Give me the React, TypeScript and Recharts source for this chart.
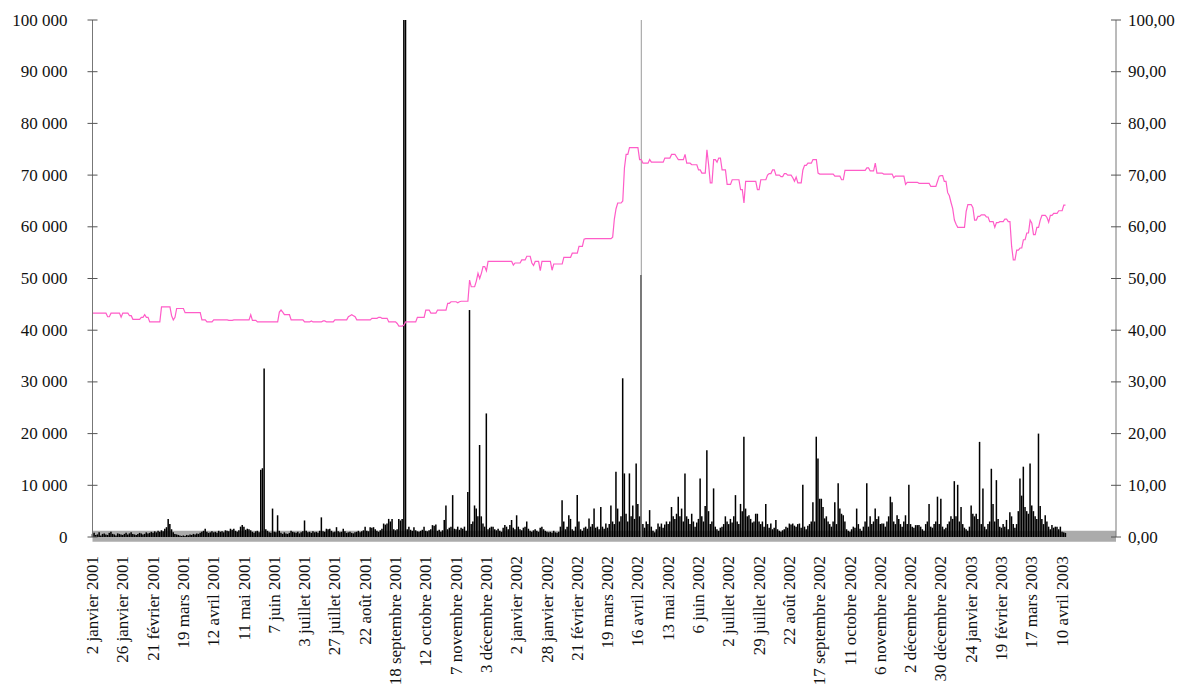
import React from 'react';
import { ComposedChart, Bar, Line, XAxis, YAxis, ReferenceArea, ReferenceLine } from 'recharts';

// one label every 18 trading days
const dateLabels = [
  '2 janvier 2001', '26 janvier 2001', '21 février 2001', '19 mars 2001', '12 avril 2001', '11  mai 2001',
  '7 juin 2001', '3 juillet 2001', '27 juillet 2001', '22 août 2001', '18 septembre 2001', '12 octobre 2001',
  '7 novembre 2001', '3 décembre 2001', '2 janvier 2002', '28 janvier 2002', '21 février 2002', '19 mars 2002',
  '16 avril 2002', '13 mai 2002', '6 juin 2002', '2 juillet 2002', '29 juillet 2002', '22 août 2002',
  '17 septembre 2002', '11 octobre 2002', '6 novembre 2002', '2 décembre 2002', '30 décembre 2002',
  '24 janvier 2003', '19 février 2003', '17 mars 2003', '10 avril 2003',
];

// daily volume, in thousands (left axis)
const volumeK = [
  0.6, 0.8, 0.4, 0.5, 0.9, 0.3, 0.6, 0.7, 0.5, 0.4, 0.8, 1.0, 0.6, 0.5, 0.3, 0.7, 0.6, 0.5,
  0.4, 0.6, 0.8, 0.5, 0.7, 0.9, 0.6, 0.5, 0.4, 0.6, 0.8, 0.7, 0.5, 0.6, 0.9, 0.7, 0.8, 1.0,
  0.8, 1.1, 0.9, 1.2, 1.0, 1.3, 1.1, 1.6, 1.9, 3.5, 2.5, 1.5, 0.9, 0.6, 0.5, 0.4, 0.3, 0.2,
  0.3, 0.2, 0.4, 0.3, 0.5, 0.4, 0.6, 0.5, 0.7, 0.6, 0.8, 1.0, 1.2, 1.6, 1.0, 0.8, 0.9, 1.1,
  0.9, 1.0, 0.8, 1.2, 1.0, 1.1, 0.9, 1.3, 1.2, 1.1, 1.6, 1.4, 1.6, 1.2, 1.0, 1.3, 2.0, 2.3,
  2.0, 1.4, 1.6, 1.5, 1.3, 1.0, 0.8, 1.1, 1.2, 0.9, 13.0, 13.3, 32.6, 1.5, 1.2, 0.9, 0.8, 5.5,
  1.0, 0.9, 4.2, 1.2, 0.8, 0.6, 0.9, 0.7, 0.6, 0.8, 1.2, 1.0, 0.9, 0.8, 1.0, 0.7, 0.9, 1.1,
  3.2, 1.2, 0.9, 1.0, 0.8, 1.1, 0.9, 1.0, 0.8, 1.2, 3.8, 1.1, 1.0, 1.6, 1.5, 1.6, 1.2, 0.9,
  1.0, 1.9, 1.1, 0.9, 1.0, 1.6, 1.1, 0.8, 0.9, 1.0, 0.8, 0.7, 0.9, 1.0, 1.2, 0.9, 1.1, 1.3,
  2.0, 1.2, 1.1, 1.9, 1.8, 1.9, 1.5, 1.2, 1.0, 1.3, 1.6, 2.6, 2.4, 2.6, 3.5, 3.0, 3.5, 1.5,
  1.3, 1.5, 3.5, 3.2, 3.5, 150, 120, 1.5, 2.0, 1.4, 1.2, 1.9, 1.3, 1.1, 1.0, 1.2, 1.4, 2.0,
  1.2, 1.1, 1.3, 1.5, 2.3, 2.2, 2.4, 1.2, 1.4, 1.0, 1.3, 3.3, 6.1, 1.5, 1.8, 2.0, 8.1, 1.6,
  1.5, 2.0, 1.4, 1.8, 1.6, 2.0, 1.2, 8.7, 43.9, 2.5, 3.0, 6.1, 5.5, 4.0, 17.8, 4.0, 2.6, 2.0,
  23.9, 1.5, 1.8, 2.0, 2.0, 1.5, 1.3, 1.6, 1.2, 1.0, 1.8, 2.3, 2.0, 1.5, 2.3, 3.3, 1.8, 1.5,
  4.2, 2.0, 1.5, 1.3, 1.8, 2.0, 3.0, 1.6, 1.2, 1.0, 1.3, 1.5, 1.2, 1.0, 1.8, 2.0, 1.5, 1.2,
  1.0, 0.9, 1.0, 0.8, 1.2, 0.9, 0.8, 1.0, 2.0, 7.1, 3.0, 1.5, 2.0, 4.2, 3.5, 1.5, 1.2, 2.0,
  8.1, 3.0, 1.5, 1.2, 1.8, 2.0, 1.6, 3.6, 2.0, 2.5, 5.5, 1.8, 2.0, 1.5, 5.8, 2.0, 1.6, 2.6,
  1.8, 2.5, 6.1, 3.0, 2.5, 12.6, 5.5, 3.0, 4.0, 30.7, 12.3, 4.5, 3.0, 12.3, 4.0, 6.1, 3.5, 14.2,
  6.4, 4.0, 50.7, 2.5, 1.8, 3.0, 2.5, 5.2, 2.0, 1.2, 0.9, 1.5, 2.6, 2.0, 2.6, 1.8, 2.4, 3.0,
  2.5, 3.0, 5.8, 4.0, 3.5, 4.5, 7.8, 4.0, 5.5, 3.0, 12.3, 4.0, 3.5, 2.5, 4.5, 3.0, 2.0, 2.8,
  3.5, 11.3, 4.0, 3.0, 6.0, 16.8, 5.0, 2.5, 3.0, 9.4, 2.0, 1.5, 1.2, 1.8, 2.0, 2.5, 4.0, 3.0,
  2.5, 3.5, 2.8, 4.0, 8.1, 3.0, 2.5, 6.4, 5.0, 19.4, 5.5, 4.0, 4.2, 3.5, 2.8, 3.0, 4.5, 4.5,
  3.0, 2.5, 3.0, 2.0, 6.4, 2.5, 1.8, 2.6, 1.5, 1.8, 3.3, 1.5, 1.2, 1.0, 1.3, 1.5, 2.0, 1.8,
  2.6, 2.4, 2.6, 2.2, 2.0, 2.5, 2.6, 1.8, 10.1, 2.0, 1.5, 2.2, 2.5, 3.0, 6.7, 3.0, 19.4, 15.2,
  7.4, 7.4, 5.8, 3.6, 4.0, 3.0, 2.5, 2.0, 3.0, 6.7, 2.5, 10.4, 5.5, 4.5, 4.2, 3.0, 1.5, 1.2,
  1.0, 1.5, 2.0, 1.8, 5.5, 2.5, 1.6, 1.2, 2.0, 3.0, 10.4, 2.0, 4.0, 2.5, 3.0, 5.5, 3.5, 4.0,
  2.5, 2.6, 2.6, 2.0, 3.0, 4.0, 7.8, 6.7, 3.0, 2.5, 4.2, 3.5, 2.5, 2.0, 3.0, 4.2, 2.5, 10.1,
  2.5, 2.0, 1.8, 2.3, 2.3, 2.3, 2.0, 1.5, 1.2, 2.5, 3.0, 6.4, 2.0, 1.8, 2.5, 3.0, 7.8, 2.5,
  7.4, 2.0, 1.5, 1.8, 2.5, 3.0, 4.0, 3.5, 10.8, 4.0, 10.1, 3.0, 5.8, 2.5, 1.8, 1.5, 1.2, 2.0,
  6.1, 4.5, 4.0, 4.5, 3.5, 18.4, 2.5, 9.4, 2.0, 1.5, 2.5, 3.0, 13.2, 6.4, 3.0, 11.0, 3.5, 2.0,
  1.8, 2.5, 2.0, 3.3, 1.5, 4.8, 4.0, 2.5, 1.8, 2.5, 5.0, 11.3, 8.0, 13.6, 5.8, 5.0, 4.5, 14.2,
  6.1, 5.0, 4.0, 3.5, 20.0, 6.0, 3.5, 2.5, 4.2, 3.0, 2.0, 1.5, 2.3, 1.8, 2.0, 2.0, 1.5, 2.0,
  1.0, 0.9, 0.8,
];

// daily closing price (right axis)
const price = [
  43.3, 43.3, 43.3, 43.3, 43.3, 43.3, 43.3, 43.3, 43.3, 42.6, 42.6, 43.3, 43.3, 43.3, 43.3, 43.3, 43.3, 42.5,
  43.3, 43.3, 43.3, 43.3, 42.8, 42.8, 42.1, 42.1, 42.1, 42.1, 42.1, 42.5, 42.5, 43.0, 42.5, 42.5, 41.6, 41.6,
  41.6, 41.6, 41.6, 41.6, 41.6, 44.5, 44.5, 44.5, 44.5, 44.5, 44.5, 42.8, 42.0, 42.5, 44.2, 44.2, 44.2, 44.2,
  44.2, 43.4, 43.4, 43.4, 43.4, 43.4, 43.4, 43.4, 43.4, 43.4, 43.4, 42.0, 42.0, 42.0, 41.6, 41.6, 41.6, 41.6,
  42.0, 42.0, 42.0, 42.0, 42.0, 42.0, 42.0, 42.0, 42.0, 41.9, 41.9, 41.9, 42.0, 42.0, 42.0, 42.0, 42.0, 42.0,
  42.0, 42.0, 42.0, 42.0, 43.0, 41.9, 41.9, 41.9, 41.6, 41.6, 41.6, 41.6, 41.6, 41.6, 41.6, 41.6, 41.6, 41.6,
  41.6, 41.6, 41.6, 43.5, 43.9, 43.5, 43.0, 43.0, 43.0, 43.0, 42.0, 42.0, 42.0, 42.0, 42.0, 42.0, 42.0, 42.0,
  41.6, 41.6, 41.6, 41.6, 41.8, 41.6, 41.6, 41.6, 41.6, 41.6, 41.6, 41.8, 41.8, 41.6, 41.6, 41.6, 41.6, 41.6,
  42.0, 42.0, 42.0, 42.0, 42.0, 42.0, 42.0, 42.0, 42.6, 42.8, 43.0, 42.8, 42.6, 42.0, 42.0, 42.0, 42.0, 42.0,
  42.0, 42.0, 42.0, 42.0, 42.3, 42.3, 42.3, 42.3, 42.5, 42.5, 42.3, 42.3, 42.3, 42.3, 41.6, 41.6, 41.6, 41.6,
  41.6, 41.3, 40.8, 40.8, 40.8, 41.0, 41.6, 41.6, 41.6, 41.6, 41.6, 41.6, 41.6, 42.5, 42.5, 42.5, 42.5, 42.5,
  43.9, 43.9, 43.9, 43.3, 43.3, 43.3, 43.3, 43.9, 43.9, 43.9, 43.9, 43.9, 43.9, 45.2, 45.2, 45.5, 45.5, 45.5,
  45.5, 45.3, 45.5, 45.6, 45.6, 45.6, 45.6, 45.6, 49.7, 48.4, 48.4, 48.4, 49.5, 51.0, 50.0, 51.0, 52.3, 52.3,
  51.5, 53.3, 53.3, 53.3, 53.3, 53.3, 53.3, 53.3, 53.3, 53.3, 53.3, 53.3, 53.3, 53.3, 53.3, 53.3, 52.6, 53.0,
  53.0, 53.0, 53.0, 53.6, 53.6, 53.6, 54.3, 54.3, 54.3, 53.0, 52.5, 53.3, 53.3, 53.3, 51.5, 53.3, 53.3, 53.3,
  53.3, 53.3, 53.3, 51.6, 52.8, 52.8, 52.8, 52.8, 52.8, 52.8, 54.1, 54.1, 54.1, 54.1, 54.1, 54.9, 54.9, 54.9,
  54.9, 56.2, 56.2, 56.2, 57.6, 57.7, 57.7, 57.7, 57.7, 57.7, 57.7, 57.7, 57.7, 57.7, 57.7, 57.7, 57.7, 57.7,
  57.7, 57.7, 57.7, 58.0, 61.5, 63.5, 64.6, 64.6, 64.6, 65.0, 71.4, 74.0, 74.0, 75.3, 75.3, 75.3, 75.3, 75.3,
  75.3, 73.0, 73.0, 72.3, 72.3, 72.3, 72.3, 73.0, 72.5, 72.5, 72.5, 72.5, 72.5, 72.5, 72.5, 72.5, 73.3, 73.3,
  73.3, 73.3, 74.0, 74.0, 74.0, 73.5, 73.0, 73.0, 73.0, 73.0, 74.0, 72.3, 72.3, 72.3, 72.0, 72.0, 72.0, 72.0,
  71.0, 71.0, 70.4, 70.4, 70.4, 74.9, 72.0, 68.5, 68.5, 73.0, 73.0, 72.5, 73.3, 73.3, 71.0, 71.0, 71.0, 68.2,
  68.2, 68.2, 69.1, 69.1, 69.1, 69.1, 69.1, 67.2, 67.2, 64.6, 68.8, 68.8, 68.8, 68.8, 68.8, 68.8, 68.8, 67.2,
  67.2, 69.1, 69.1, 69.1, 69.1, 70.0, 70.3, 70.3, 71.0, 71.0, 70.0, 70.0, 70.0, 69.7, 69.7, 70.3, 70.3, 70.0,
  70.0, 70.0, 69.5, 68.8, 69.6, 68.5, 68.5, 68.5, 71.0, 71.9, 71.9, 72.3, 72.3, 72.3, 73.0, 73.0, 73.0, 70.4,
  70.2, 70.2, 70.2, 70.2, 70.2, 70.2, 70.2, 70.2, 70.2, 69.8, 69.8, 69.8, 69.8, 69.1, 69.1, 70.9, 70.9, 70.9,
  70.9, 70.9, 70.9, 70.9, 70.9, 70.9, 70.9, 70.9, 70.9, 70.9, 71.4, 71.4, 70.8, 70.8, 70.8, 72.3, 70.4, 70.4,
  70.4, 70.4, 70.2, 70.2, 70.2, 70.2, 70.2, 70.2, 69.5, 69.8, 69.8, 69.8, 69.8, 69.8, 69.8, 68.2, 68.6, 68.6,
  68.6, 68.6, 68.6, 68.6, 68.6, 68.4, 68.4, 68.4, 68.4, 68.4, 68.4, 68.4, 67.8, 67.8, 67.8, 67.8, 68.8, 69.8,
  69.9, 69.9, 68.8, 68.8, 66.6, 66.0, 64.7, 63.5, 61.3, 60.5, 59.9, 59.9, 59.9, 59.9, 59.9, 63.0, 64.3, 64.3,
  64.3, 63.7, 61.3, 61.3, 62.0, 62.0, 62.3, 62.3, 62.3, 61.9, 61.9, 61.0, 61.0, 61.0, 59.9, 60.8, 60.8, 61.0,
  61.0, 61.0, 61.5, 61.5, 61.0, 61.0, 56.2, 53.6, 53.6, 55.5, 55.5, 55.9, 55.9, 57.5, 57.5, 58.8, 58.8, 61.3,
  60.7, 58.5, 58.5, 59.9, 59.9, 61.3, 62.2, 62.2, 62.2, 61.8, 60.9, 62.2, 62.2, 62.6, 62.6, 62.6, 63.1, 63.1,
  63.1, 64.2, 64.2,
];

const LABEL_STEP = 18;
const AXIS_END = 608; // empty days after the last quote
const highlightDay = 326; // 16 avril 2002 marker

const leftTicks = [0, 10000, 20000, 30000, 40000, 50000, 60000, 70000, 80000, 90000, 100000];
const rightTicks = [0, 10, 20, 30, 40, 50, 60, 70, 80, 90, 100];

const FONT = '"Liberation Serif", "Times New Roman", serif';
const TEXT = '#111';

const fmtLeft = (v: number) => (v === 0 ? '0' : `${Math.floor(v / 1000)} 000`);
const fmtRight = (v: number) => v.toFixed(2).replace('.', ',');

const LeftTick = (props: any) => {
  const { x, y, payload } = props;
  return (
    <g>
      <line x1={x + 20} x2={x + 30} y1={y} y2={y} stroke="#555" />
      <text x={x} y={y} textAnchor="end" dominantBaseline="central" fontFamily={FONT} fontSize={17} fill={TEXT}>
        {fmtLeft(payload.value)}
      </text>
    </g>
  );
};

const RightTick = (props: any) => {
  const { x, y, payload } = props;
  return (
    <g>
      <line x1={x - 17} x2={x - 7} y1={y} y2={y} stroke="#555" />
      <text x={x} y={y} textAnchor="start" dominantBaseline="central" fontFamily={FONT} fontSize={17} fill={TEXT}>
        {fmtRight(payload.value)}
      </text>
    </g>
  );
};

const DateTick = (props: any) => {
  const { x, y, payload } = props;
  const label = dateLabels[Math.round(payload.value / LABEL_STEP)];
  return (
    <text
      x={x}
      y={y}
      transform={`rotate(-90 ${x} ${y})`}
      textAnchor="end"
      dominantBaseline="central"
      fontFamily={FONT}
      fontSize={17}
      fill={TEXT}
    >
      {label}
    </text>
  );
};

const data = volumeK.map((v, i) => ({ day: i, volume: v * 1000, price: price[i] }));
const xTicks = dateLabels.map((_, k) => k * LABEL_STEP);

export default function App() {
  return (
    <div style={{ position: 'absolute', left: 0, top: 0, background: '#fff' }}>
      <ComposedChart width={1181} height={693} data={data} margin={{ top: 20, right: 0, bottom: 0, left: 0 }}>
        <XAxis
          dataKey="day"
          type="number"
          domain={[0, AXIS_END]}
          ticks={xTicks}
          interval={0}
          tick={<DateTick />}
          tickLine={false}
          axisLine={false}
          tickSize={0}
          tickMargin={19}
          height={156}
        />
        <YAxis
          yAxisId="left"
          orientation="left"
          domain={[0, 100000]}
          ticks={leftTicks}
          allowDataOverflow
          width={92.5}
          tickLine={false}
          tickSize={0}
          tickMargin={25}
          axisLine={{ stroke: '#777' }}
          tick={<LeftTick />}
        />
        <YAxis
          yAxisId="right"
          orientation="right"
          domain={[0, 100]}
          ticks={rightTicks}
          width={65}
          tickLine={false}
          tickSize={0}
          tickMargin={12}
          axisLine={{ stroke: '#777' }}
          tick={<RightTick />}
        />
        <ReferenceArea yAxisId="left" y1={-900} y2={1200} fill="#ababab" fillOpacity={1} stroke="none" ifOverflow="visible" />
        <ReferenceLine yAxisId="left" x={highlightDay} stroke="#999" strokeWidth={1} />
        <Bar yAxisId="left" dataKey="volume" fill="#000" barSize={2} isAnimationActive={false} />
        <Line
          yAxisId="right"
          dataKey="price"
          stroke="#ff5cc8"
          strokeWidth={1.2}
          dot={false}
          type="linear"
          isAnimationActive={false}
        />
      </ComposedChart>
    </div>
  );
}
